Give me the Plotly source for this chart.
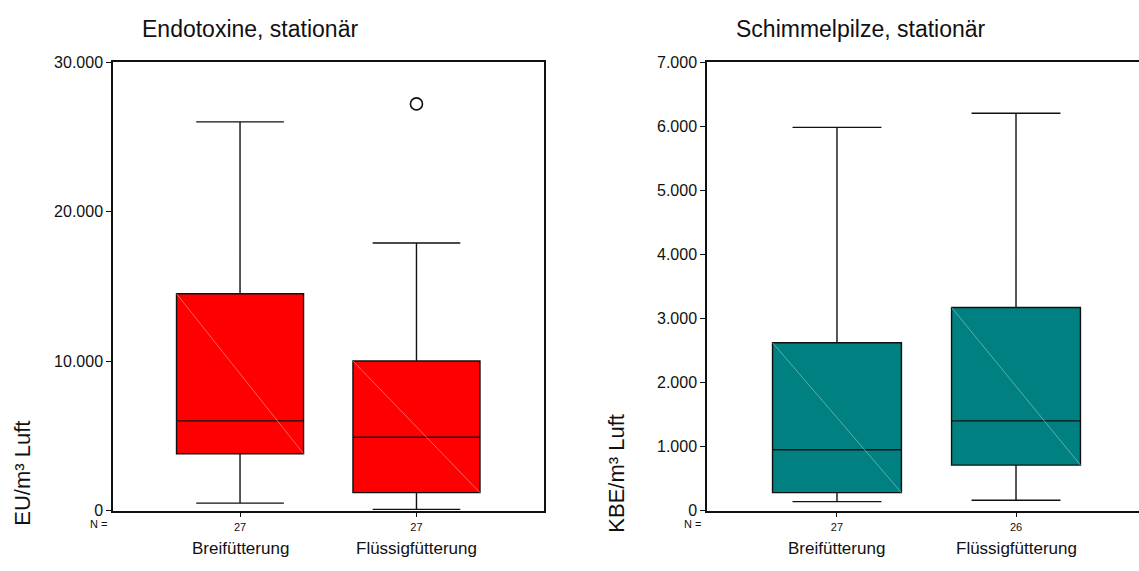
import plotly.graph_objects as go

# ---- data ----
categories = ["Breifütterung", "Flüssigfütterung"]
counts_endo = [27, 27]
counts_schim = [27, 26]

endo_lower = [500, 80]
endo_q1 = [3800, 1200]
endo_median = [6000, 4900]
endo_q3 = [14500, 10000]
endo_upper = [26000, 17900]
endo_outliers_x = [1]
endo_outliers_y = [27200]

schim_lower = [140, 160]
schim_q1 = [280, 710]
schim_median = [950, 1400]
schim_q3 = [2620, 3170]
schim_upper = [5980, 6200]

endo_ticks = [0, 10000, 20000, 30000]
schim_ticks = [0, 1000, 2000, 3000, 4000, 5000, 6000, 7000]

titles = ["Endotoxine, stationär", "Schimmelpilze, stationär"]
ytitles = ["EU/m³ Luft", "KBE/m³ Luft"]

RED = "#FF0000"
TEAL = "#008080"
BOXW = 0.72
FONT = "Liberation Sans, Arial, sans-serif"

W, H = 1139, 571
fig = go.Figure()

pos = [0, 1]


def add_panel(xa, ya, lower, q1, med, q3, upper, color, diag):
    fig.add_trace(go.Box(
        x=pos, q1=q1, median=med, q3=q3, lowerfence=lower, upperfence=upper,
        width=BOXW, whiskerwidth=0.69, fillcolor=color,
        line=dict(color="#111111", width=1.4), boxpoints=False,
        xaxis=xa, yaxis=ya, showlegend=False, hoverinfo="skip"))
    for i in range(len(pos)):
        fig.add_trace(go.Scatter(
            x=[pos[i] - BOXW / 2, pos[i] + BOXW / 2], y=[q3[i], q1[i]],
            mode="lines", line=dict(color=diag, width=0.7),
            xaxis=xa, yaxis=ya, showlegend=False, hoverinfo="skip"))


add_panel("x", "y", endo_lower, endo_q1, endo_median, endo_q3, endo_upper, RED, "#ff8c8c")
add_panel("x2", "y2", schim_lower, schim_q1, schim_median, schim_q3, schim_upper, TEAL, "#7fc4c4")

fig.add_trace(go.Scatter(
    x=endo_outliers_x, y=endo_outliers_y, mode="markers",
    marker=dict(symbol="circle-open", size=12, color="#111111", line=dict(width=1.6)),
    xaxis="x", yaxis="y", showlegend=False, hoverinfo="skip"))

ybot = 1 - 518 / H
ytop = 1 - 55.7 / H

common_x = dict(showline=True, linecolor="#111111", linewidth=1.5, ticks="outside",
                ticklen=5, tickcolor="#111111", showgrid=False, zeroline=False,
                tickvals=pos, tickfont=dict(family=FONT, size=11, color="#111111"))
common_y = dict(showline=True, linecolor="#111111", linewidth=1.5, ticks="outside",
                ticklen=5, tickcolor="#111111", showgrid=False, zeroline=False,
                tickformat=",d", tickfont=dict(family=FONT, size=16, color="#111111"))

fig.update_layout(
    width=W, height=H, margin=dict(l=0, r=0, t=0, b=0),
    paper_bgcolor="white", plot_bgcolor="white", separators=",.",
    xaxis=dict(domain=[113 / W, 543.5 / W], range=[-0.72, 1.72], mirror=True,
               ticktext=[str(c) for c in counts_endo], anchor="y", **common_x),
    yaxis=dict(domain=[ybot, ytop], range=[0, 30000], tickvals=endo_ticks, mirror=True,
               anchor="x", **common_y),
    xaxis2=dict(domain=[707 / W, 1.0], range=[-0.726, 1.687], mirror=True,
                ticktext=[str(c) for c in counts_schim], anchor="y2", **common_x),
    yaxis2=dict(domain=[ybot, ytop], range=[0, 7000], tickvals=schim_ticks, mirror=False,
                anchor="x2", **common_y),
)

ann = []
for xa, t, yt in [("x", titles[0], ytitles[0]), ("x2", titles[1], ytitles[1])]:
    dom = fig.layout[("xaxis" if xa == "x" else "xaxis2")].domain
    ann.append(dict(text=t, xref="paper", yref="paper", x=dom[0] + 27 / W, y=1 - 22 / H,
                    xanchor="left", yanchor="middle", showarrow=False,
                    font=dict(family=FONT, size=23, color="#111111")))
    ann.append(dict(text="N =", xref="paper", yref="paper", x=dom[0] - 4 / W, y=1 - 532 / H,
                    xanchor="right", yanchor="middle", showarrow=False,
                    font=dict(family=FONT, size=11, color="#111111")))
    ann.append(dict(text=yt, xref="paper", yref="paper", x=dom[0] - 90 / W, y=1 - 480 / H,
                    xanchor="center", yanchor="middle", textangle=-90, showarrow=False,
                    font=dict(family=FONT, size=22, color="#111111")))
    for p, c in zip(pos, categories):
        ann.append(dict(text=c, xref=xa, yref="paper", x=p, y=1 - 557 / H,
                        xanchor="center", yanchor="middle", showarrow=False,
                        font=dict(family=FONT, size=17, color="#111111")))
fig.update_layout(annotations=ann)

fig.write_html("out.html", config={"displayModeBar": False},
               post_script="document.body.style.margin='0';")
